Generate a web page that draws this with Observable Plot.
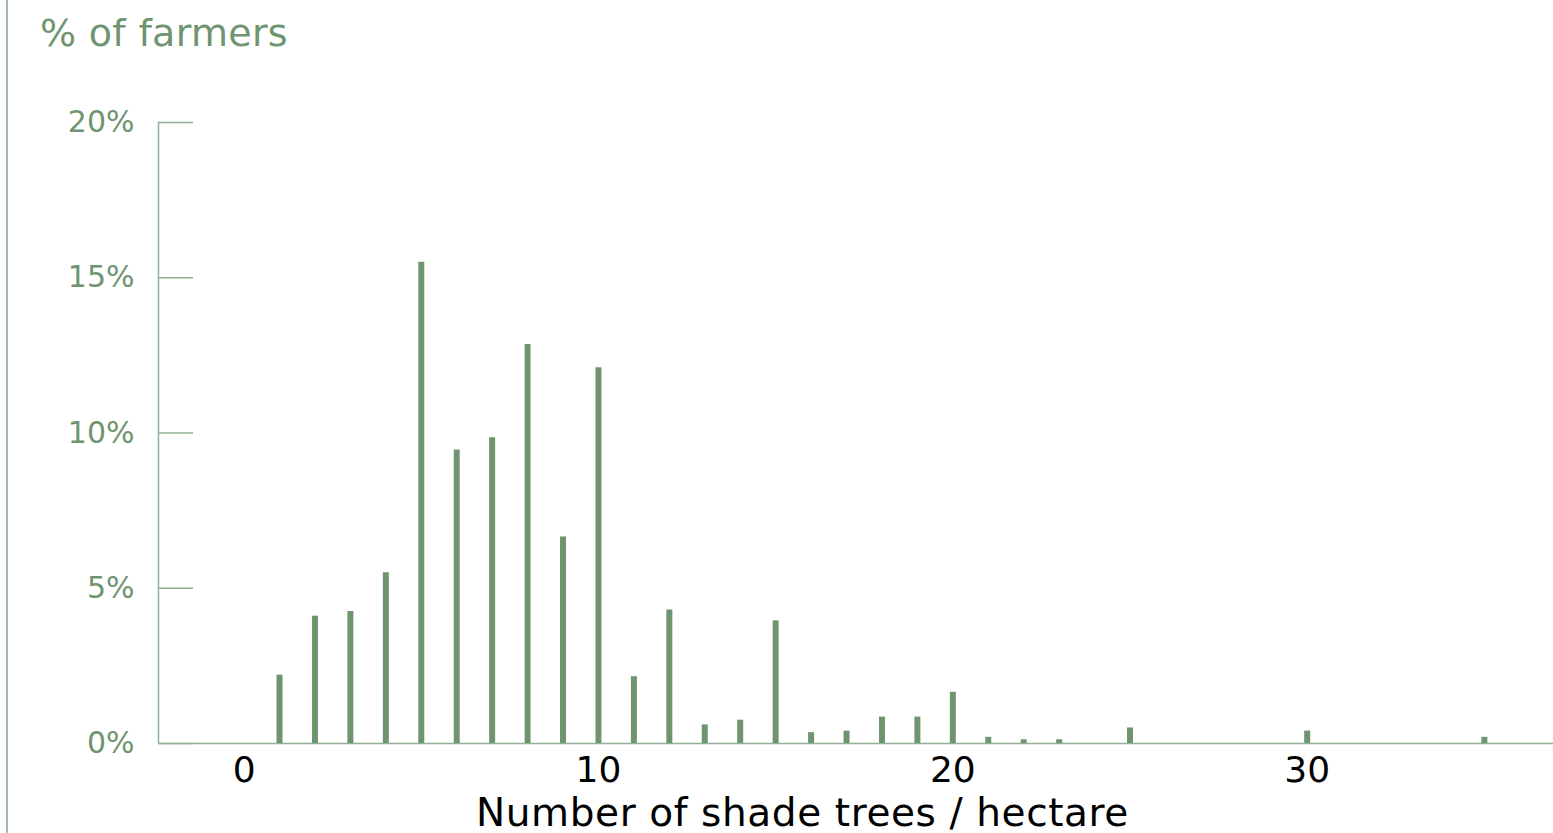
<!DOCTYPE html>
<html><head><meta charset="utf-8">
<script src="https://cdn.jsdelivr.net/npm/d3@7"></script>
<script src="https://cdn.jsdelivr.net/npm/@observablehq/plot@0.6"></script>
<style>
html,body{margin:0;padding:0;background:#fff;overflow:hidden}
#wrap{position:relative;width:1553px;height:833px;font-family:"DejaVu Sans",sans-serif}
#leftline{position:absolute;left:6px;top:0;width:0;height:833px;border-left:2px solid #a3bda4}
#ylab{position:absolute;left:40px;top:14px;font-size:38px;letter-spacing:0.3px;color:#6f9470;white-space:nowrap;line-height:1}
#xlab{position:absolute;left:476px;top:793px;font-size:39px;letter-spacing:0.6px;color:#000;white-space:nowrap;line-height:1}
#chart{position:absolute;left:0;top:0}
</style></head>
<body>
<div id="wrap">
  <div id="chart"></div>
  <div id="leftline"></div>
  <div id="ylab">% of farmers</div>
  <div id="xlab">Number of shade trees / hectare</div>
</div>
<script>
const trees = [1,2,3,4,5,6,7,8,9,10,11,12,13,14,15,16,17,18,19,20,21,22,23,25,30,35];
const pctFarmers = [2.2,4.1,4.25,5.5,15.5,9.45,9.85,12.85,6.65,12.1,2.15,4.3,0.6,0.75,3.95,0.35,0.4,0.85,0.85,1.65,0.2,0.12,0.12,0.5,0.4,0.2];
const xTicks = [0,10,20,30];
const yTicks = [0,5,10,15,20];
const xDomain = [-2.415, 36.95];
const yDomain = [0, 20];

const data = trees.map((t,i)=>({trees:t, pct:pctFarmers[i]}));
const green = "#6f9470";
const axisGreen = "#92b093";

const chart = Plot.plot({
  width:1553, height:833,
  marginLeft:158, marginRight:0, marginTop:122, marginBottom:90,
  x:{domain:xDomain},
  y:{domain:yDomain},
  style:{fontFamily:'"DejaVu Sans",sans-serif', background:"transparent", overflow:"visible"},
  marks:[
    Plot.axisX({ticks:xTicks, tickSize:0, tickPadding:13, fontSize:36, color:"#000", label:null}),
    Plot.axisY({ticks:yTicks, tickSize:0, tickPadding:24, tickFormat:d=>d+"%", fontSize:30, color:green, label:null}),
    Plot.ruleY([0], {stroke:axisGreen, strokeWidth:1.5}),
    Plot.ruleX([xDomain[0]], {y1:yDomain[0], y2:yDomain[1], stroke:axisGreen, strokeWidth:1.5}),
    Plot.ruleY(yTicks, {x1:xDomain[0], x2:xDomain[0]+0.99, stroke:axisGreen, strokeWidth:1.5}),
    Plot.ruleX(data, {x:"trees", y1:0, y2:"pct", stroke:green, strokeWidth:6})
  ]
});
document.getElementById("chart").appendChild(chart);
</script>
</body></html>
